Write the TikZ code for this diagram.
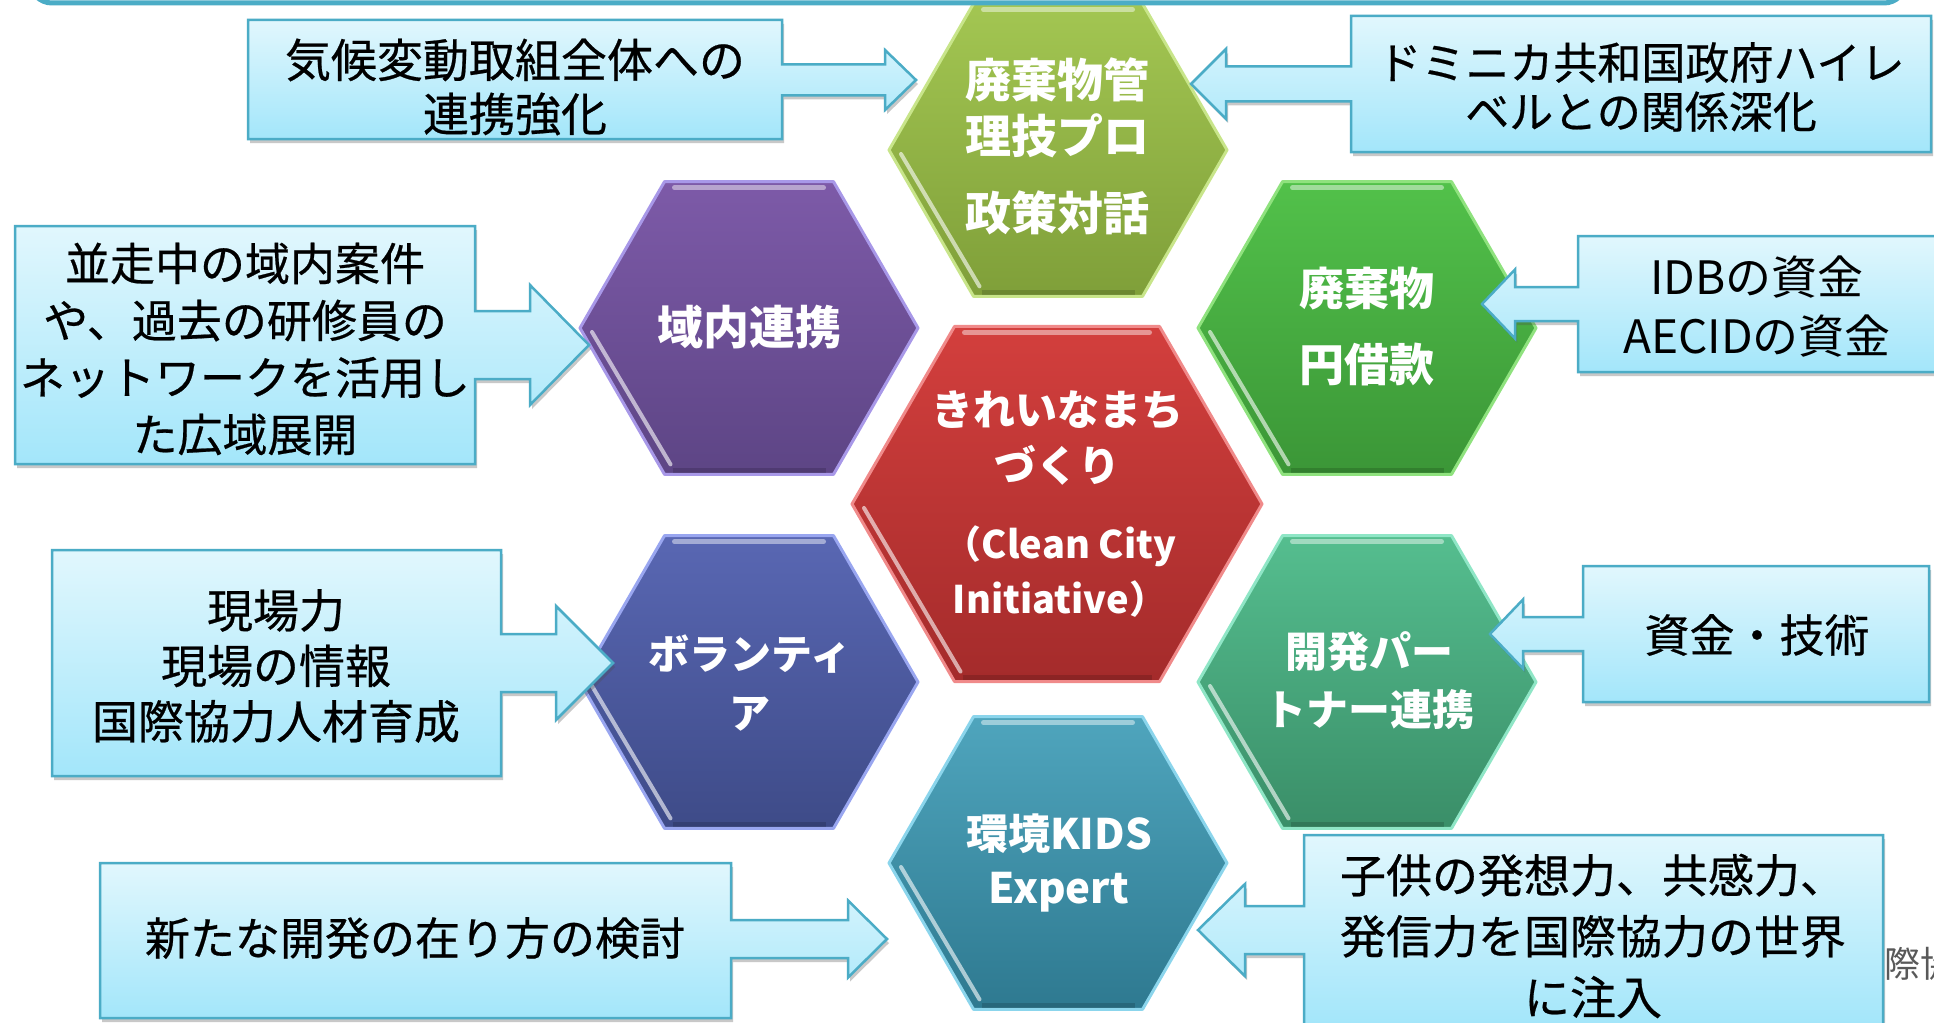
\documentclass[tikz,border=0pt]{standalone}
\usepackage{fontspec}
\newfontfamily\jp{Noto Sans CJK JP}
\newfontfamily\jpm{Noto Sans CJK JP}[FakeBold=0.5]
\usetikzlibrary{shadows}
\definecolor{cbTop}{HTML}{E1F7FD}
\definecolor{cbBot}{HTML}{A3E6FA}
\definecolor{cbLine}{HTML}{4BACC6}
\definecolor{hgaT}{HTML}{A3C652}\definecolor{hgaB}{HTML}{7F9F39}\definecolor{hgaL}{HTML}{C8E58A}
\definecolor{hpuT}{HTML}{7D5AA8}\definecolor{hpuB}{HTML}{5D4585}\definecolor{hpuL}{HTML}{A898E8}
\definecolor{hgrT}{HTML}{52C14A}\definecolor{hgrB}{HTML}{3B9637}\definecolor{hgrL}{HTML}{8FE27E}
\definecolor{hreT}{HTML}{D33F3D}\definecolor{hreB}{HTML}{A42B2B}\definecolor{hreL}{HTML}{F08A8A}
\definecolor{hblT}{HTML}{5967B3}\definecolor{hblB}{HTML}{3E4B88}\definecolor{hblL}{HTML}{99A6F0}
\definecolor{htgT}{HTML}{55BE8F}\definecolor{htgB}{HTML}{3A8E68}\definecolor{htgL}{HTML}{8FE6C6}
\definecolor{htlT}{HTML}{4FA5BD}\definecolor{htlB}{HTML}{2E7990}\definecolor{htlL}{HTML}{8BD5EC}
\definecolor{grayTxt}{HTML}{595959}
\tikzset{
  callout/.style={top color=cbTop, bottom color=cbBot, draw=cbLine, line width=2.5pt,
    drop shadow={shadow xshift=2pt, shadow yshift=-4pt, opacity=0.3, fill=black!70}},
  jtext/.style={align=center, text=black, inner sep=0pt},
  htext/.style={align=center, text=white, inner sep=0pt},
}
% hexagon: #1 name, #2 cx, #3 cy, #4 R, #5 colour prefix
\newcommand{\HexCell}[5]{%
  \coordinate (#1) at (#2,#3);
  \path[top color=#5T, bottom color=#5B, draw=#5L, line width=3pt, line join=round]
    ({#2-#4},#3) -- ({#2-#4/2},{#3-0.866*#4}) -- ({#2+#4/2},{#3-0.866*#4}) -- ({#2+#4},#3)
    -- ({#2+#4/2},{#3+0.866*#4}) -- ({#2-#4/2},{#3+0.866*#4}) -- cycle;
  \draw[white, opacity=0.45, line width=5pt, line cap=round]
    ({#2-#4/2+10},{#3-0.866*#4+6}) -- ({#2+#4/2-10},{#3-0.866*#4+6});
  \draw[white, opacity=0.6, line width=4pt, line cap=round]
    ({#2-#4+12},{#3+4}) -- ({#2-#4/2+6},{#3+0.866*#4-10});
  \draw[black, opacity=0.15, line width=5pt]
    ({#2-#4/2+8},{#3+0.866*#4-4}) -- ({#2+#4/2-8},{#3+0.866*#4-4});
}
% callout with right arrow: x1,y1,x2,y2,cy,shaft half,head base x,head half,tip x
\newcommand{\CalloutR}[9]{%
  \path[callout] (#1,#2) -- (#3,#2) -- (#3,{#5-#6}) -- (#7,{#5-#6}) -- (#7,{#5-#8}) -- (#9,#5)
    -- (#7,{#5+#8}) -- (#7,{#5+#6}) -- (#3,{#5+#6}) -- (#3,#4) -- (#1,#4) -- cycle;}
% callout with left arrow
\newcommand{\CalloutL}[9]{%
  \path[callout] (#1,#2) -- (#3,#2) -- (#3,#4) -- (#1,#4) -- (#1,{#5+#6}) -- (#7,{#5+#6})
    -- (#7,{#5+#8}) -- (#9,#5) -- (#7,{#5-#8}) -- (#7,{#5-#6}) -- (#1,{#5-#6}) -- cycle;}
\begin{document}
\begin{tikzpicture}[x=1pt,y=-1pt]
\useasboundingbox (0,0) rectangle (1934,1022);
\clip (0,0) rectangle (1934,1022);
\fill[white] (0,0) rectangle (1934,1022);

% hexagons
\HexCell{hTop}{1058}{150}{169}{hga}
\HexCell{hPur}{749}{328}{169}{hpu}
\HexCell{hGrn}{1367}{328}{169}{hgr}
\HexCell{hRed}{1057}{504}{205}{hre}
\HexCell{hVol}{749}{682}{169}{hbl}
\HexCell{hDev}{1367}{682}{169}{htg}
\HexCell{hKid}{1058}{863}{169}{htl}

\node[htext, font=\jp\bfseries\fontsize{46}{56}\selectfont] (tTop1) at (1057,108) {廃棄物管\\理技プロ};
\node[htext, font=\jp\bfseries\fontsize{46}{56}\selectfont] (tTop2) at (1057,213) {政策対話};
\node[htext, font=\jp\bfseries\fontsize{46}{56}\selectfont] (tPur) at (749,327) {域内連携};
\node[htext, font=\jp\bfseries\fontsize{45}{76}\selectfont] (tGrn) at (1367,327) {廃棄物\\円借款};
\node[htext, font=\jp\bfseries\fontsize{42}{56}\selectfont] (tRed1) at (1057,438) {きれいなまち\\づくり};
\node[htext, font=\jp\bfseries\fontsize{38}{55}\selectfont] (tRed2) at (1060,572) {（Clean City\\Initiative）};
\node[htext, font=\jp\bfseries\fontsize{41}{59}\selectfont] (tVol) at (750,683) {ボランティ\\ア};
\node[htext, font=\jp\bfseries\fontsize{42}{58}\selectfont] (tDev) at (1369,681) {開発パー\\トナー連携};
\node[htext, font=\jp\bfseries\fontsize{42}{54}\selectfont] (tKid) at (1059,863) {環境KIDS\\Expert};

% gray background text partly hidden
\node[anchor=base west, inner sep=0pt, text=grayTxt, font=\jp\fontsize{36}{40}\selectfont] (tBg) at (1848,977) {国際協力};

% callouts
\CalloutR{248}{20}{782}{139}{80}{15.5}{885}{30}{916}
\node[jtext, font=\jpm\fontsize{46}{54}\selectfont] (c1) at (515,87) {気候変動取組全体への\\連携強化};

\CalloutL{1351}{16}{1931}{152}{84}{17.5}{1226}{35}{1191}
\node[jtext, font=\jpm\fontsize{44}{49}\selectfont] (c2) at (1641,87) {ドミニカ共和国政府ハイレ\\ベルとの関係深化};

\CalloutR{15}{226}{475}{464}{345}{34}{530}{60}{589}
\node[jtext, font=\jpm\fontsize{45}{57}\selectfont] (c3) at (245,349) {並走中の域内案件\\や、過去の研修員の\\ネットワークを活用し\\た広域展開};

\CalloutL{1578}{236}{1945}{372}{304}{17}{1515}{34.5}{1482}
\node[jtext, font=\jp\fontsize{46}{59}\selectfont] (c4) at (1757,307) {IDBの資金\\AECIDの資金};

\CalloutR{52}{550}{501}{776}{663}{29}{556}{57}{613}
\node[jtext, font=\jpm\fontsize{46}{55.5}\selectfont] (c5) at (276,666) {現場力\\現場の情報\\国際協力人材育成};

\CalloutL{1583}{566}{1929}{702}{634}{17}{1523}{34.5}{1490}
\node[jtext, font=\jpm\fontsize{45}{56}\selectfont] (c6) at (1757,635) {資金・技術};

\CalloutR{100}{863}{731}{1018}{939}{19}{848}{38.5}{887}
\node[jtext, font=\jpm\fontsize{45}{56}\selectfont] (c7) at (415,938) {新たな開発の在り方の検討};

\CalloutL{1304}{835}{1883}{1026}{930}{24}{1245}{46}{1198}
\node[jtext, font=\jpm\fontsize{46}{61}\selectfont] (c8) at (1593,936) {子供の発想力、共感力、\\発信力を国際協力の世界\\に注入};

% top banner border
\draw[cbLine, line width=5pt, rounded corners=22pt] (30,-80) rectangle (1906,3);
\end{tikzpicture}
\end{document}
